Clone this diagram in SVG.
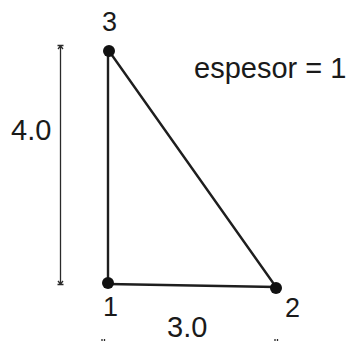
<svg xmlns="http://www.w3.org/2000/svg" width="353" height="342" viewBox="0 0 353 342">
<style>
.edge{stroke:#1e1e1e;stroke-width:2.4;fill:none;stroke-linecap:round}
.dim{stroke:#2a2a2a;stroke-width:1.3;fill:none}
.node{fill:#111}
.lbl{font-family:"Liberation Sans",Arial,sans-serif;font-size:27px;fill:#1a1a1a}
.big{font-family:"Liberation Sans",Arial,sans-serif;font-size:29px;fill:#1a1a1a}
</style>
<rect width="353" height="342" fill="#fff"/>
<g id="connectors">
<line class="edge" x1="108" y1="51" x2="108" y2="283"/>
<line class="edge" x1="108" y1="284" x2="276" y2="287"/>
<line class="edge" x1="109" y1="51" x2="276" y2="287"/>
</g>
<g id="dimension-vertical">
<line class="dim" x1="60.5" y1="46" x2="60.5" y2="284"/>
<path d="M57.5 45.5 H63.5 M58 49 L60.5 46 L63 49" class="dim" stroke-width="1"/>
<path d="M57.5 284.5 H63.5 M58 281 L60.5 284 L63 281" class="dim" stroke-width="1"/>
<text class="big" x="11" y="140">4.0</text>
</g>
<g id="dimension-horizontal">
<text class="big" x="167" y="337">3.0</text>
<path d="M102 339 v2 M104.5 339 v2 M275 339 v2 M277.5 339 v2" class="dim" stroke-width="0.8"/>
</g>
<g id="node1">
<circle class="node" cx="108" cy="283" r="6"/>
<text class="lbl" x="103" y="316">1</text>
</g>
<g id="node2">
<circle class="node" cx="276" cy="288" r="6"/>
<text class="lbl" x="285" y="317">2</text>
</g>
<g id="node3">
<circle class="node" cx="109" cy="51" r="6"/>
<text class="lbl" x="102" y="31">3</text>
</g>
<g id="label">
<text class="big" x="194" y="78">espesor = 1</text>
</g>
</svg>
